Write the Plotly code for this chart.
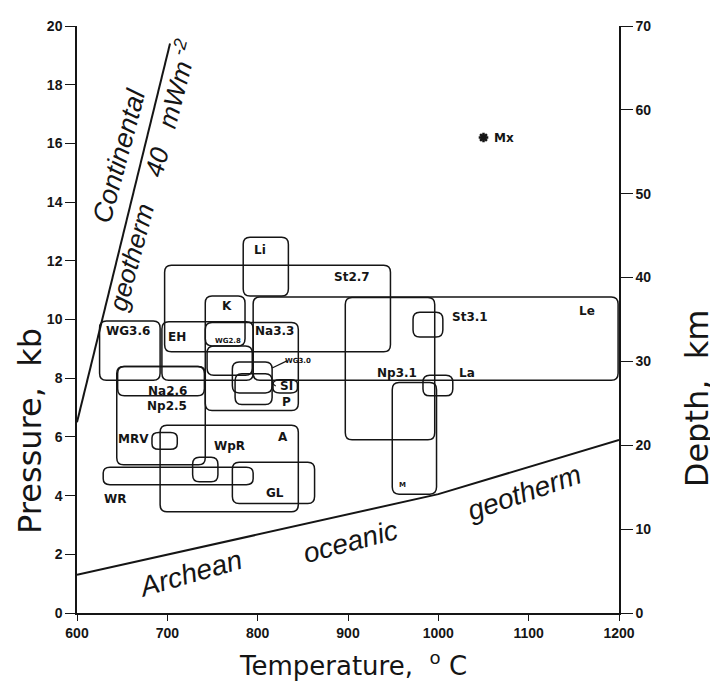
import plotly.graph_objects as go

# ---------------- data ----------------
box_names = ["Li", "St2.7", "K", "EH", "WG3.6", "Na3.3", "WG2.8", "WG3.0", "SI", "P",
             "Na2.6", "Np2.5", "MRV", "A", "WpR", "WR", "GL", "Le", "Np3.1", "M",
             "St3.1", "La"]
t_min = [784, 697, 742, 694, 625, 742, 744, 772, 775, 817,
         645, 644, 683, 692, 728, 629, 772, 795, 897, 949,
         972, 983]
t_max = [834, 947, 786, 795, 692, 845, 794, 816, 816, 844,
         741, 742, 711, 845, 756, 795, 863, 1199, 996, 998,
         1005, 1016]
p_min = [10.8, 8.9, 9.1, 7.93, 7.93, 6.9, 8.1, 7.5, 7.1, 7.5,
         7.4, 5.05, 5.58, 3.45, 4.47, 4.37, 3.73, 7.93, 5.9, 4.05,
         9.4, 7.4]
p_max = [12.8, 11.85, 10.8, 9.92, 9.95, 9.9, 9.1, 8.55, 8.15, 7.95,
         8.4, 8.4, 6.15, 6.4, 5.31, 4.97, 5.14, 10.77, 10.75, 7.85,
         10.25, 8.1]

# label anchor points (data units)
label_t = [803, 904, 766, 711, 656, 819, 767, 845, 832, 832,
           700, 700, 662, 828, 769, 642, 819, 1165, 954, 960,
           1035, 1032]
label_p = [12.37, 11.46, 10.45, 9.41, 9.61, 9.61, 9.28, 8.6, 7.73, 7.19,
           7.56, 7.06, 5.92, 5.98, 5.68, 3.9, 4.1, 10.3, 8.17, 4.37,
           10.07, 8.17]
small_labels = {"WG2.8", "WG3.0", "M"}
leader_labels = {"WG3.0", "SI"}

mx_t = [1050]
mx_p = [16.2]

cont_t = [600, 703]
cont_p = [6.5, 19.4]
ocean_t = [600, 1000, 1200]
ocean_p = [1.3, 4.05, 5.9]

temp_ticks = [600, 700, 800, 900, 1000, 1100, 1200]
p_ticks = [0, 2, 4, 6, 8, 10, 12, 14, 16, 18, 20]
depth_ticks = [0, 10, 20, 30, 40, 50, 60, 70]

# ---------------- styling ----------------
INK = "#151515"
FONT = "Liberation Sans, Arial, sans-serif"
WIDE = "DejaVu Sans, sans-serif"
RX, RY = 7.5, 0.24


def rounded_path(x0, x1, y0, y1):
    rx = min(RX, (x1 - x0) / 3)
    ry = min(RY, (y1 - y0) / 3)
    return (f"M {x0+rx},{y0} L {x1-rx},{y0} Q {x1},{y0} {x1},{y0+ry} "
            f"L {x1},{y1-ry} Q {x1},{y1} {x1-rx},{y1} L {x0+rx},{y1} "
            f"Q {x0},{y1} {x0},{y1-ry} L {x0},{y0+ry} Q {x0},{y0} {x0+rx},{y0} Z")


fig = go.Figure()

shapes = []
for i, n in enumerate(box_names):
    shapes.append(dict(type="path", xref="x", yref="y",
                       path=rounded_path(t_min[i], t_max[i], p_min[i], p_max[i]),
                       line=dict(color=INK, width=1.5)))
    if n in leader_labels:
        # short leader from the box edge to its label
        shapes.append(dict(type="line", xref="x", yref="y",
                           x0=t_max[i], y0=label_p[i] - 0.25 if n == "WG3.0" else label_p[i] + 0.1,
                           x1=label_t[i] - 12, y1=label_p[i],
                           line=dict(color=INK, width=1.2)))

fig.add_trace(go.Scatter(x=cont_t, y=cont_p, mode="lines",
                         line=dict(color=INK, width=2), showlegend=False, hoverinfo="skip"))
fig.add_trace(go.Scatter(x=ocean_t, y=ocean_p, mode="lines",
                         line=dict(color=INK, width=2), showlegend=False, hoverinfo="skip"))
fig.add_trace(go.Scatter(x=mx_t, y=mx_p, mode="markers",
                         marker=dict(symbol="asterisk-open", size=8, color=INK,
                                     line=dict(color=INK, width=2.5)),
                         showlegend=False, hoverinfo="skip"))
# invisible trace to activate the depth axis
fig.add_trace(go.Scatter(x=[temp_ticks[0]], y=[depth_ticks[0]], yaxis="y2", mode="markers",
                         marker=dict(opacity=0), showlegend=False, hoverinfo="skip"))

ann = []
for i, n in enumerate(box_names):
    small = n in small_labels
    ann.append(dict(x=label_t[i], y=label_p[i], xref="x", yref="y", text=f"<b>{n}</b>",
                    showarrow=False,
                    font=dict(family=WIDE, size=7 if small else 12, color=INK)))
ann.append(dict(x=1059, y=16.17, xref="x", yref="y", text="<b>Mx</b>", xanchor="left",
                showarrow=False, font=dict(family=WIDE, size=12, color=INK)))

# geotherm labels
ann.append(dict(x=647, y=15.6, xref="x", yref="y", text="<i>Continental</i>",
                textangle=-75, showarrow=False, font=dict(family=FONT, size=27, color=INK)))
ann.append(dict(x=683, y=14.9, xref="x", yref="y",
                text="<i>geotherm    40   mWm<sup> -2</sup></i>",
                textangle=-75, showarrow=False, font=dict(family=FONT, size=26, color=INK)))
ann.append(dict(x=725, y=1.35, xref="x", yref="y", text="<i>Archean</i>",
                textangle=-16, showarrow=False, font=dict(family=FONT, size=28, color=INK)))
ann.append(dict(x=903, y=2.45, xref="x", yref="y", text="<i>oceanic</i>",
                textangle=-15, showarrow=False, font=dict(family=FONT, size=28, color=INK)))
ann.append(dict(x=1095, y=4.12, xref="x", yref="y", text="<i>geotherm</i>",
                textangle=-19, showarrow=False, font=dict(family=FONT, size=28, color=INK)))

# axis titles
ann.append(dict(x=0.51, y=-0.087, xref="paper", yref="paper", xanchor="center", yanchor="middle",
                text="Temperature,  <sup>o</sup> C",
                showarrow=False, font=dict(family=WIDE, size=26, color=INK)))
ann.append(dict(x=-0.087, y=0.31, xref="paper", yref="paper", xanchor="center", yanchor="middle",
                text="Pressure,  kb",
                textangle=-90, showarrow=False, font=dict(family=WIDE, size=32, color=INK)))
ann.append(dict(x=1.144, y=0.366, xref="paper", yref="paper", xanchor="center", yanchor="middle",
                text="Depth,  km",
                textangle=-90, showarrow=False, font=dict(family=WIDE, size=32, color=INK)))

axis_common = dict(showgrid=False, zeroline=False, showline=True, linecolor=INK,
                   ticks="outside", tickcolor=INK,
                   tickfont=dict(family=FONT, size=14, color=INK, weight="bold"))

fig.update_layout(
    width=710, height=687,
    margin=dict(l=69, r=99, t=10, b=82),
    paper_bgcolor="white", plot_bgcolor="white",
    shapes=shapes, annotations=ann,
    xaxis=dict(range=[600, 1200], tickvals=temp_ticks, ticklen=6, linewidth=2,
               **axis_common),
    yaxis=dict(range=[0, 20], tickvals=p_ticks, ticklen=10, linewidth=1.5,
               **axis_common),
    yaxis2=dict(range=[0, 70], tickvals=depth_ticks, ticklen=12, linewidth=1.5,
                overlaying="y", side="right", **axis_common),
)

fig.write_html("out.html")
